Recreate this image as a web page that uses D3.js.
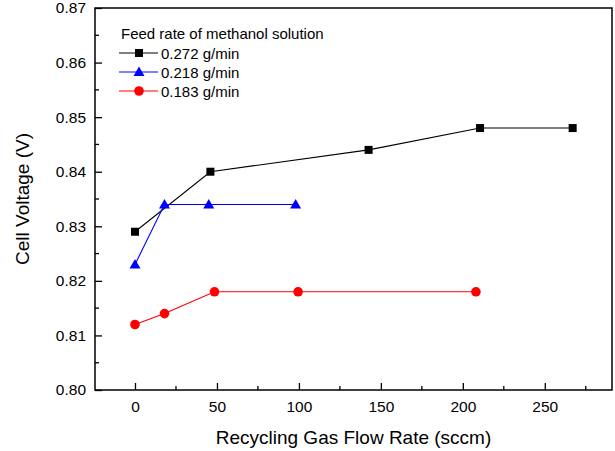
<!DOCTYPE html>
<html><head><meta charset="utf-8">
<script src="https://cdn.jsdelivr.net/npm/d3@7"></script>
<style>body{margin:0;background:#fff}svg{display:block}text{font-family:"Liberation Sans",Arial,sans-serif}</style>
</head><body><svg id="c" width="615" height="451"></svg>
<script>
const seriesNames = ["0.272 g/min", "0.218 g/min", "0.183 g/min"];
const seriesColors = ["#000000", "#0000ff", "#ff0000"];
const seriesShapes = ["square", "triangle", "circle"];
const x272 = [0, 46, 142.5, 210.5, 267];
const y272 = [0.829, 0.840, 0.844, 0.848, 0.848];
const x218 = [0, 18, 45, 98];
const y218 = [0.823, 0.834, 0.834, 0.834];
const x183 = [0, 18, 48.5, 99.5, 208];
const y183 = [0.812, 0.814, 0.818, 0.818, 0.818];
const xTicks = [0, 50, 100, 150, 200, 250];
const yTicks = [0.80, 0.81, 0.82, 0.83, 0.84, 0.85, 0.86, 0.87];
const legendTitle = "Feed rate of methanol solution";
const xTitle = "Recycling Gas Flow Rate (sccm)";
const yTitle = "Cell Voltage (V)";

const series = [
  {x: x272, y: y272}, {x: x218, y: y218}, {x: x183, y: y183}
];

const svg = d3.select("#c");
const L = 95, R = 612, T = 8, B = 390;
const x = d3.scaleLinear().domain([-24.4, 291]).range([L, R]);
const y = d3.scaleLinear().domain([0.80, 0.87]).range([B, T]);

const xMinor = d3.range(25, 291, 50);
const yMinor = d3.range(0, 7).map(i => 0.805 + i * 0.01);

const g = svg.append("g");
const xAxis = d3.axisBottom(x).tickValues(xTicks).tickFormat(d3.format("d")).tickSizeInner(-7).tickSizeOuter(0);
const gx = g.append("g").attr("transform", `translate(0,${B})`).call(xAxis);
gx.select(".domain").remove();
gx.selectAll(".tick line").attr("stroke", "#000").attr("stroke-width", 1.3);
gx.selectAll(".tick text").attr("y", 22).attr("dy", 0).attr("font-size", 15.5).attr("fill", "#000").attr("font-family", "Liberation Sans, Arial, sans-serif");
g.append("g").selectAll("line").data(xMinor).join("line")
  .attr("x1", d => x(d)).attr("x2", d => x(d)).attr("y1", B).attr("y2", B - 4)
  .attr("stroke", "#000").attr("stroke-width", 1.3);

const yAxis = d3.axisLeft(y).tickValues(yTicks).tickFormat(d3.format(".2f")).tickSizeInner(-7).tickSizeOuter(0);
const gy = g.append("g").attr("transform", `translate(${L},0)`).call(yAxis);
gy.select(".domain").remove();
gy.selectAll(".tick line").attr("stroke", "#000").attr("stroke-width", 1.3);
gy.selectAll(".tick text").attr("x", -9).attr("font-size", 15.5).attr("fill", "#000").attr("font-family", "Liberation Sans, Arial, sans-serif");
g.append("g").selectAll("line").data(yMinor).join("line")
  .attr("x1", L).attr("x2", L + 4).attr("y1", d => y(d)).attr("y2", d => y(d))
  .attr("stroke", "#000").attr("stroke-width", 1.3);

g.append("rect").attr("x", L).attr("y", T).attr("width", R - L).attr("height", B - T)
  .attr("fill", "none").attr("stroke", "#000").attr("stroke-width", 1.5);

function marker(sel, shape, color, cx, cy) {
  if (shape === "square") {
    sel.append("rect").attr("x", cx - 4).attr("y", cy - 4).attr("width", 8).attr("height", 8).attr("fill", color);
  } else if (shape === "triangle") {
    sel.append("path").attr("d", `M${cx},${cy - 5.5}L${cx + 5.5},${cy + 4}L${cx - 5.5},${cy + 4}Z`).attr("fill", color);
  } else {
    sel.append("circle").attr("cx", cx).attr("cy", cy).attr("r", 4.8).attr("fill", color);
  }
}

const line = d3.line().x(d => x(d[0])).y(d => y(d[1]));
series.forEach((s, i) => {
  const pts = s.x.map((v, k) => [v, s.y[k]]);
  const sg = g.append("g");
  sg.append("path").attr("d", line(pts)).attr("fill", "none").attr("stroke", seriesColors[i]).attr("stroke-width", 1.1);
  pts.forEach(p => marker(sg, seriesShapes[i], seriesColors[i], x(p[0]), y(p[1])));
});

const lg = g.append("g");
lg.append("text").attr("x", 121).attr("y", 39).attr("font-size", 15).attr("fill", "#000").text(legendTitle);
seriesNames.forEach((n, i) => {
  const ly = 53 + i * 19;
  lg.append("line").attr("x1", 119).attr("x2", 158).attr("y1", ly).attr("y2", ly).attr("stroke", seriesColors[i]).attr("stroke-width", 1.1);
  marker(lg, seriesShapes[i], seriesColors[i], 139, ly);
  lg.append("text").attr("x", 161).attr("y", ly + 5.5).attr("font-size", 15).attr("fill", "#000").text(n);
});

g.append("text").attr("x", (L + R) / 2).attr("y", 444).attr("text-anchor", "middle").attr("font-size", 19).attr("fill", "#000").text(xTitle);
g.append("text").attr("transform", `translate(29,${(T + B) / 2}) rotate(-90)`).attr("text-anchor", "middle").attr("font-size", 19).attr("fill", "#000").text(yTitle);
</script></body></html>
